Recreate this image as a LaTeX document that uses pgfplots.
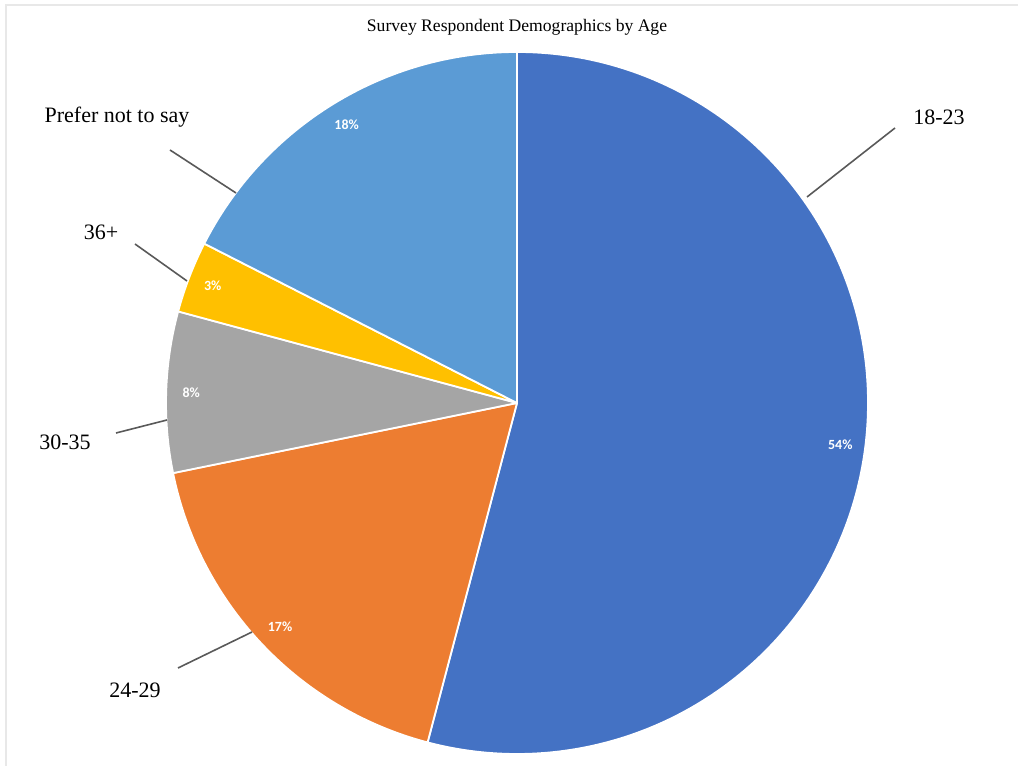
\documentclass[border=0pt]{standalone}
\usepackage{pgfplots}
\pgfplotsset{compat=1.18}
\usepackage{pgfplotstable}
\usepackage{fontspec}
\setmainfont{Liberation Serif}
\newfontfamily\pctfont{Carlito}

\definecolor{c1}{HTML}{4472C4}
\definecolor{c2}{HTML}{ED7D31}
\definecolor{c3}{HTML}{A5A5A5}
\definecolor{c4}{HTML}{FFC000}
\definecolor{c5}{HTML}{5B9BD5}
\definecolor{leader}{HTML}{595959}
\definecolor{frame}{HTML}{E8E8E8}

% share = size of the wedge as drawn, shown = printed data label
\pgfplotstableread[col sep=comma]{
label,share,shown,color
18-23,54.1,54,c1
24-29,17.7,17,c2
30-35,7.4,8,c3
36+,3.3,3,c4
Prefer not to say,17.5,18,c5
}\piedata

\tikzset{pct/.style={text=white, font=\pctfont\bfseries\fontsize{7}{8}\selectfont, inner sep=0pt}}

\begin{document}
\begin{tikzpicture}
% build the wedges from the table (angles expanded into literal numbers)
\gdef\piecmds{}
\gdef\pctcmds{}
\xdef\cum{0}
\foreach \i in {0,...,4}{
  \pgfplotstablegetelem{\i}{share}\of\piedata \let\myval\pgfplotsretval
  \pgfplotstablegetelem{\i}{shown}\of\piedata \let\myshown\pgfplotsretval
  \pgfplotstablegetelem{\i}{color}\of\piedata \let\mycol\pgfplotsretval
  \pgfmathsetmacro{\sa}{90-3.6*\cum}
  \pgfmathsetmacro{\ea}{90-3.6*(\cum+\myval)}
  \pgfmathsetmacro{\ma}{(\sa+\ea)/2}
  \xdef\piecmds{\unexpanded\expandafter{\piecmds}%
    \noexpand\fill[\mycol, draw=white, line width=0.9pt, line join=round] (axis cs:517,363) -- ++(\sa:175.5pt) arc[start angle=\sa, end angle=\ea, radius=175.5pt] -- cycle;}
  \xdef\pctcmds{\unexpanded\expandafter{\pctcmds}%
    \noexpand\path (axis cs:517,363) ++(\ma:163pt) node[pct] {\myshown\noexpand\%};}
  \pgfmathsetmacro{\newcum}{\cum+\myval}
  \xdef\cum{\newcum}
}
\begin{axis}[
  scale only axis,
  width=509pt, height=383pt,
  xmin=0, xmax=1018, ymin=0, ymax=766,
  hide axis,
]
\coordinate (BL) at (axis cs:0,0);
\coordinate (TR) at (axis cs:1018,766);
% faint frame of the original picture
\draw[frame, line width=1pt] (axis cs:6,0) -- (axis cs:6,761) -- (axis cs:1018,761);
\piecmds
\pctcmds
% title
\node[font=\fontsize{8.8}{10}\selectfont] at (axis cs:517,739) {Survey Respondent Demographics by Age};
% category labels and leader lines
\draw[leader, line width=0.8pt] (axis cs:807,569) -- (axis cs:895,638);
\draw[leader, line width=0.8pt] (axis cs:170,616) -- (axis cs:236,573);
\draw[leader, line width=0.8pt] (axis cs:135,522) -- (axis cs:187,485);
\draw[leader, line width=0.8pt] (axis cs:116,333) -- (axis cs:167,346);
\draw[leader, line width=0.8pt] (axis cs:178,98) -- (axis cs:252,134);
\node[font=\fontsize{11}{12}\selectfont] at (axis cs:939,649) {18-23};
\node[font=\fontsize{11}{12}\selectfont] at (axis cs:117,649) {Prefer not to say};
\node[font=\fontsize{11}{12}\selectfont] at (axis cs:101,534) {36+};
\node[font=\fontsize{11}{12}\selectfont] at (axis cs:65,324) {30-35};
\node[font=\fontsize{11}{12}\selectfont] at (axis cs:135,76) {24-29};
\end{axis}
\pgfresetboundingbox
\path[use as bounding box] (BL) rectangle (TR);
\end{tikzpicture}
\end{document}
